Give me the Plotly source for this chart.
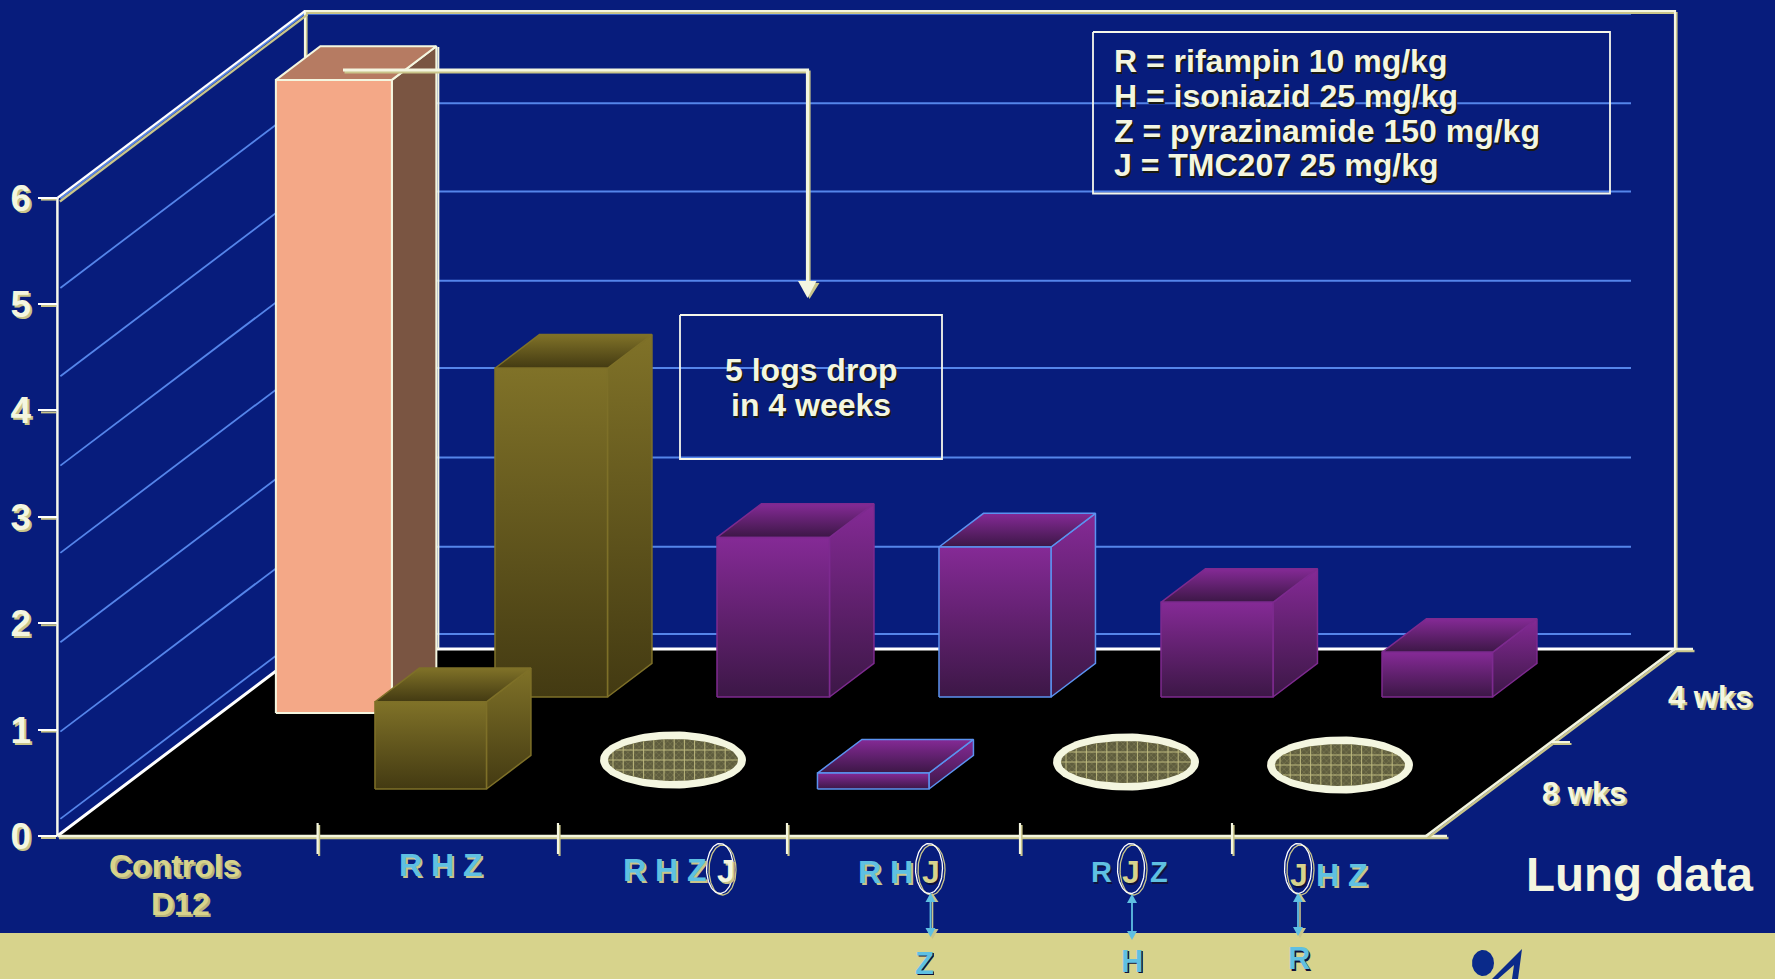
import numpy as np
import plotly.graph_objects as go

# ---- data -------------------------------------------------------------
regimens = ["Controls D12", "R H Z", "R H Z J", "R H J", "R J Z", "J H Z"]
weeks_4 = [5.95, 3.09, 1.50, 1.41, 0.89, 0.42]      # log10 CFU, back row (Controls at D12)
weeks_8 = [None, 0.82, 0.0, 0.15, 0.0, 0.0]         # log10 CFU, front row; 0 = culture negative
value_ticks = [0, 1, 2, 3, 4, 5, 6]
grid_levels = [0.14, 0.96, 1.80, 2.64, 3.46, 4.30, 5.13, 5.97]
legend_lines = ["R = rifampin 10 mg/kg", "H = isoniazid 25 mg/kg",
                "Z = pyrazinamide 150 mg/kg", "J = TMC207 25 mg/kg"]
row_labels = ["4 wks", "8 wks"]

# ---- projection of the oblique box: floor position + depth + value -----
W, H = 1775, 979
X0, Y0 = 57.4, 836.0          # front-left floor corner in page pixels
SCALE = 106.4                 # pixels per log unit
DX, DY = 247.0, 187.0         # floor depth vector
FLOOR_W = 1369.0
BAR_DEPTH = 0.18
COLUMNS = [56.0, 254.0, 476.0, 698.0, 920.0, 1141.0]
COL_W = [116.0, 112.5, 112.5, 112.0, 112.0, 110.5]
FRONT_COLUMN_SHIFT = {1: 1.5, 3: 0.0}
DEPTH_CTRL, DEPTH_4, DEPTH_8 = 0.6578, 0.7433, 0.2513

BG = "#071c7c"
CREAM = "#f4f6e0"
TAN = "#c9c58a"
GRID = "#5585ea"
SKY = "#5fc0e2"
BAND = "#d7d38c"
FONT = "Liberation Sans"


def project(x, depth, value):
    return X0 + x + depth * DX, value + depth * DY / SCALE


def val(py):
    """Value-axis coordinate of a page pixel row."""
    return (Y0 - py) / SCALE


fig = go.Figure()


def poly(pts, fill=None, line=None, lw=1.5, grad=None, pattern=None):
    xs = [p[0] for p in pts] + [pts[0][0]]
    ys = [p[1] for p in pts] + [pts[0][1]]
    kw = dict(x=xs, y=ys, mode="lines", hoverinfo="skip", showlegend=False,
              line=dict(color=line or "rgba(0,0,0,0)", width=lw if line else 0))
    kw["fill"] = "toself" if (fill or grad) else "none"
    if fill:
        kw["fillcolor"] = fill
    if grad:
        lo, hi, c_lo, c_hi = grad
        kw["fillgradient"] = dict(type="vertical", start=lo, stop=hi,
                                  colorscale=[[0, c_lo], [1, c_hi]])
    if pattern:
        kw["fillpattern"] = pattern
    fig.add_trace(go.Scatter(**kw))


def line(pts, color, width=2.0):
    fig.add_trace(go.Scatter(x=[p[0] if p else None for p in pts],
                             y=[p[1] if p else None for p in pts],
                             mode="lines", hoverinfo="skip", showlegend=False,
                             line=dict(color=color, width=width)))


def pline(pix, color, width=2.0, off=(0, 0)):
    line([(p[0] + off[0], val(p[1] + off[1])) if p else None for p in pix], color, width)


def shadowed(pix, width=2.5, top=CREAM, under=TAN, off=(1.5, 2.0)):
    pline(pix, under, width, off)
    pline(pix, top, width)


def ellipse(cx, cy, rx, ry, n=90):
    t = np.linspace(0, 2 * np.pi, n)
    return [(cx + rx * np.cos(a), val(cy + ry * np.sin(a))) for a in t]


def box(col, depth, width, value, front, top, side, edge, lw=1.5):
    """Front, top and side faces of one bar, each a filled polygon."""
    d2 = depth + BAR_DEPTH
    a, b = col, col + width
    f = [project(a, depth, 0), project(b, depth, 0), project(b, depth, value), project(a, depth, value)]
    t = [project(a, depth, value), project(b, depth, value), project(b, d2, value), project(a, d2, value)]
    s = [project(b, depth, 0), project(b, d2, 0), project(b, d2, value), project(b, depth, value)]
    for pts, style in ((s, side), (t, top), (f, front)):
        ys = [p[1] for p in pts]
        if isinstance(style, tuple):
            poly(pts, line=edge, lw=lw, grad=(min(ys), max(ys), style[0], style[1]))
        else:
            poly(pts, fill=style, line=edge, lw=lw)


# ---- footer band -------------------------------------------------------
poly([(0, val(933)), (W, val(933)), (W, val(979)), (0, val(979))], fill=BAND)

# ---- walls and floor ---------------------------------------------------
floor = [project(0, 0, 0), project(FLOOR_W, 0, 0), project(FLOOR_W, 1, 0), project(0, 1, 0)]

# back-wall and side-wall grid
right_end = 1631 - (X0 + DX)
for lv in grid_levels:
    line([project(0, 1, lv), project(right_end, 1, lv)], GRID, 2)
    line([project(0, 0.012, lv), project(0, 1, lv)], GRID, 1.8)

poly(floor, fill="#000000")

# wall outlines
shadowed([(305, 649), (305, 11), (1675, 11), (1675, 649)], width=2.2, top=CREAM)
pline([(X0, 198), (305, 11)], TAN, 2.2, (2.5, 3.5))
pline([(X0, 198), (305, 11)], "#ffffff", 2.2)
pline([(X0, 198), (X0, 836)], "#f7f8ea", 2.5)
pline([(X0, 836), (305, 649), (1675, 649)], "#ffffff", 3)
# front-floor and right-floor edges
shadowed([(X0, 836), (1447, 836)], width=2.5, top=CREAM)
shadowed([(1426, 836), (1675, 649), (1693, 649)], width=2.5, top=CREAM)
shadowed([(1552, 742), (1570, 742)], width=2, top=CREAM)
# category separators on the front edge
for tx in [317.6, 558, 787, 1020, 1232]:
    shadowed([(tx, 823), (tx, 854)], width=2.2, top=CREAM)
# underlines of the value-axis ticks
for v in value_ticks:
    py = Y0 - v * SCALE
    pline([(41, py + 2), (56, py + 2)], TAN, 2)

# ---- bars --------------------------------------------------------------
PURPLE_HI, PURPLE_LO = "#852a96", "#3c1746"
OLIVE_HI, OLIVE_LO = "#807228", "#433a12"
PURPLE_F = (PURPLE_LO, PURPLE_HI)
OLIVE_F = (OLIVE_LO, OLIVE_HI)

# Back row: 4 weeks of treatment
for i in range(1, 6):
    if i == 1:
        f, e = OLIVE_F, "#7e7028"
    else:
        f, e = PURPLE_F, ("#5b92f0" if i == 3 else "#7d2a8f")
    box(COLUMNS[i], DEPTH_4, COL_W[i], weeks_4[i], f, f, f, e)

# Untreated controls, drawn above the grid and the back row
box(COLUMNS[0], DEPTH_CTRL, COL_W[0], weeks_4[0], "#f4a887", "#b67b62", "#7a5542", CREAM, 2)
cx = project(COLUMNS[0] + COL_W[0], DEPTH_CTRL + BAR_DEPTH, weeks_4[0])[0] + 2
line([(cx, val(47)), (cx, val(649))], CREAM, 2)

# Front row: 8 weeks of treatment
for i in range(1, 6):
    if weeks_8[i]:
        f, e = (OLIVE_F, "#7e7028") if i == 1 else (PURPLE_F, "#5b92f0")
        box(COLUMNS[i] + FRONT_COLUMN_SHIFT[i], DEPTH_8, 111.5, weeks_8[i], f, f, f, e)

# Culture-negative groups are shown as hatched rings lying on the floor
ring_centres = {2: (673, 760), 4: (1126, 762), 5: (1340, 765)}
for i, v in enumerate(weeks_8):
    if v == 0:
        rx, ry = ring_centres[i]
        poly(ellipse(rx, ry, 73, 28.5), fill=CREAM)
        poly(ellipse(rx, ry, 65, 21), fill="#6d6b47",
             pattern=dict(shape="x", size=4, solidity=0.35, fgcolor="#8d8a5e", bgcolor="#5f5d3e"))
        seg = []
        for gx in np.arange(-60, 61, 10.2):
            h = 21 * np.sqrt(max(0, 1 - (gx / 65) ** 2))
            seg += [(rx + gx, ry - h), (rx + gx, ry + h), None]
        for gy in (-10, 0, 10):
            w = 65 * np.sqrt(1 - (gy / 21) ** 2)
            seg += [(rx - w, ry + gy), (rx + w, ry + gy), None]
        pline(seg, "#bdb97e", 1)

# ---- callouts ----------------------------------------------------------
shadowed([(343, 70), (807.5, 70), (807.5, 284)], width=3.2, top=CREAM)
poly([(801, val(282)), (819.5, val(283)), (809.5, val(299))], fill=TAN)
poly([(798, val(281)), (816.5, val(281)), (807.5, val(298))], fill=CREAM)


def rect(x0, y0, x1, y1, color="#f6f7ea", width=1.8):
    pline([(x0, y0), (x1, y0), (x1, y1), (x0, y1), (x0, y0)], color, width)


rect(1093, 32, 1610, 193.5)
rect(680, 315, 942, 459)

# rings around the added drug in the regimen labels
for jx in [721, 930, 1132, 1299]:
    poly(ellipse(jx + 1.5, 870, 13.5, 25), line=TAN, lw=1.3)
    poly(ellipse(jx - 1, 868.5, 13.5, 25), line="#ffffff", lw=1.3)


def double_arrow(x, y0, y1, shadow=True):
    if shadow:
        pline([(x + 2, y0 + 5), (x + 2, y1 - 5)], TAN, 1.6)
        poly([(x - 4, val(y0 + 9)), (x + 8, val(y0 + 9)), (x + 2, val(y0))], fill=TAN)
        poly([(x - 4, val(y1 - 8)), (x + 8, val(y1 - 8)), (x + 2, val(y1 + 2))], fill=TAN)
    pline([(x, y0 + 5), (x, y1 - 5)], SKY, 1.8)
    poly([(x - 5, val(y0 + 9)), (x + 5, val(y0 + 9)), (x, val(y0))], fill=SKY)
    poly([(x - 5, val(y1 - 9)), (x + 5, val(y1 - 9)), (x, val(y1))], fill=SKY)


double_arrow(930.5, 893, 937)
double_arrow(1132, 894, 940, shadow=False)
double_arrow(1298, 893, 936)

# logo fragment on the footer band
poly(ellipse(1483, 963, 11, 13), fill="#0a2a8a")
poly([(1522, val(949)), (1518, val(979)), (1512, val(979)), (1514, val(965)), (1498, val(979)), (1492, val(979))],
     fill="#0a2a8a")

# ---- text --------------------------------------------------------------
notes = []


def label(px, py, text, size, color=CREAM, shadow="1.5px 1.5px 0 #1a1a10", bold=True, anchor="center", height=None):
    note = dict(x=px / W, y=1 - py / H, xref="paper", yref="paper", text=text,
                showarrow=False, xanchor=anchor, yanchor="middle",
                font=dict(family=FONT, size=size, color=color, shadow=shadow,
                          weight=700 if bold else 400))
    if height:
        note["height"] = height
    notes.append(note)


TAN_SH = "2px 2px 0 #c9c58a"
DARK_SH = "1.5px 1.5px 0 #10123a"

for k, t in enumerate(legend_lines):
    label(1111.5, 61.5 + k * 34.5, t, 32, anchor="left")
label(811, 370, "5 logs drop", 32)
label(811, 405, "in 4 weeks", 32)

# regimen labels
label(175, 866, "Controls", 32, color=BAND, shadow="2px 2px 0 #b7b37a")
label(180, 904, "D12", 32, color=BAND, shadow="2px 2px 0 #b7b37a")
label(441, 865, regimens[1], 32, color=SKY, shadow=TAN_SH)
label(665, 870, regimens[1], 32, color=SKY, shadow=TAN_SH)
label(726, 871, "J", 32, color=CREAM, shadow=TAN_SH)
label(885, 872, "R H", 32, color=SKY, shadow=TAN_SH)
label(931, 872, "J", 32, color=BAND, shadow=DARK_SH)
label(1101, 872, "R", 29, color=SKY, shadow=DARK_SH)
label(1131, 872, "J", 32, color=BAND, shadow=DARK_SH)
label(1159, 872, "Z", 29, color=SKY, shadow=DARK_SH)
label(1299, 875, "J", 32, color=BAND, shadow=DARK_SH)
label(1342, 875, "H Z", 32, color=SKY, shadow=TAN_SH)
label(924, 963, "Z", 31, color=SKY, shadow=DARK_SH, height=30)
label(1132, 961, "H", 31, color=SKY, shadow=DARK_SH, height=30)
label(1299, 958, "R", 31, color=SKY, shadow=DARK_SH)

label(1710, 697, row_labels[0], 31, shadow=TAN_SH)
label(1584, 793, row_labels[1], 31, shadow=TAN_SH)
label(1640, 874, "Lung data", 47.5, shadow="none")

fig.update_layout(
    width=W, height=H, autosize=False,
    margin=dict(l=0, r=0, t=0, b=0, pad=0),
    paper_bgcolor=BG, plot_bgcolor=BG,
    showlegend=False, hovermode=False,
    annotations=notes,
    xaxis=dict(range=[0, W], visible=False, domain=[0, 1], fixedrange=True),
    yaxis=dict(range=[val(H), val(0)], domain=[0, 1], anchor="free", position=X0 / W,
               tickmode="array", tickvals=value_ticks, ticktext=[str(v) for v in value_ticks],
               ticks="outside", ticklen=19, tickwidth=2, tickcolor="#ffffff",
               showgrid=False, zeroline=False, showline=False, fixedrange=True,
               tickfont=dict(family=FONT, size=37, color=CREAM, weight=700,
                             shadow="2px 2px 0 #c9c58a")),
)

fig.write_html("out.html", config=dict(displayModeBar=False))
